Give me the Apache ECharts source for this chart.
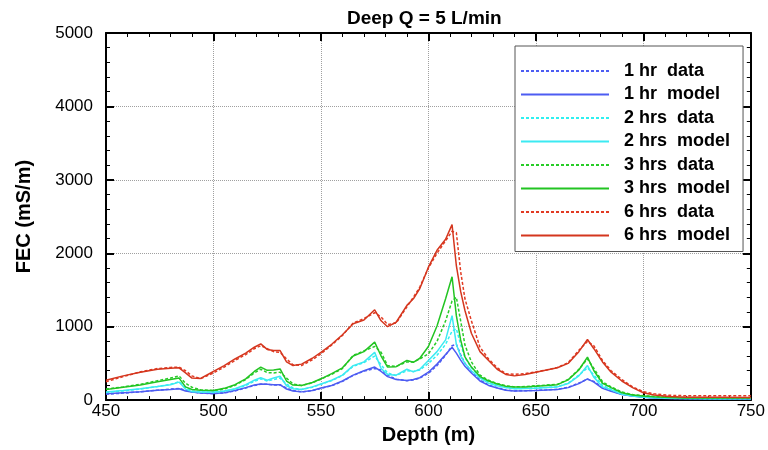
<!DOCTYPE html>
<html>
<head>
<meta charset="utf-8">
<script src="https://cdn.jsdelivr.net/npm/echarts@6/dist/echarts.min.js"></script>
<style>
  html, body { margin: 0; padding: 0; background: #fff; }
  #chart { width: 768px; height: 450px; }
</style>
</head>
<body>
<div id="chart"></div>
<script>
// Depth stations (m)
const depth = [450,458,466,474,480,484,487,490,494,500,
  505,510,515,519,522,525,528,531,534,537,
  541,546,550,555,560,565,570,575,578,581,
  585,590,593,596,600,604,608,611,613,615,
  617,620,624,628,632,636,640,645,650,655,
  660,665,670,674,677,681,685,690,695,700,
  705,712,720,735,750];

// FEC (mS/m) profiles
const hr1Data = [80,95,112,135,150,160,135,112,95,88,
  98,125,165,200,215,215,205,205,165,130,
  112,128,160,195,255,335,395,430,410,340,
  285,265,275,300,365,470,610,740,760,620,
  500,390,275,205,168,138,125,128,133,140,
  148,175,232,285,255,170,125,80,58,42,
  32,24,20,17,17];
const hr1Model = [85,100,115,135,145,155,125,110,95,90,
  100,130,170,205,220,215,210,210,150,125,
  112,130,165,200,260,340,400,450,390,320,
  280,268,280,305,380,490,620,720,640,545,
  460,370,260,200,165,135,123,127,132,138,
  145,170,225,290,245,160,120,75,55,40,
  30,22,18,15,15];
const hrs2Data = [105,125,150,185,215,250,170,125,110,105,
  120,150,200,255,290,260,280,300,220,165,
  145,175,215,265,335,460,510,600,480,370,
  335,400,390,410,500,610,760,940,970,760,
  580,440,320,240,200,172,158,160,165,172,
  182,230,340,440,340,200,150,90,60,45,
  35,28,25,22,22];
const hrs2Model = [110,130,155,185,210,245,150,115,110,110,
  125,155,210,270,305,270,300,325,195,155,
  145,180,220,270,340,470,520,650,430,350,
  340,420,385,420,540,660,820,1150,760,600,
  500,400,300,230,195,170,155,158,163,170,
  180,225,330,470,310,180,140,80,55,40,
  32,25,22,20,20];
const hrs3Data = [150,180,215,265,300,330,230,175,140,130,
  150,200,280,370,420,375,370,380,300,220,
  200,235,285,350,430,610,670,730,650,470,
  460,520,520,560,630,800,1080,1350,1400,1080,
  750,520,340,270,225,195,180,185,195,205,
  215,280,420,560,430,250,180,110,75,60,
  50,40,35,32,30];
const hrs3Model = [145,175,205,250,280,300,180,145,135,130,
  160,210,290,390,450,405,410,425,260,205,
  200,240,290,360,440,600,660,790,600,450,
  455,540,515,570,730,1010,1380,1680,1150,820,
  590,450,320,260,220,190,177,180,190,200,
  210,275,410,585,400,230,170,100,70,55,
  45,35,30,28,28];
const hrs6Data = [250,320,385,430,445,450,400,330,290,370,
  450,540,620,700,740,700,660,650,560,480,
  470,550,630,750,880,1050,1110,1190,1130,1030,
  1050,1270,1400,1540,1800,2000,2170,2300,2280,1750,
  1380,1080,720,560,440,360,350,360,385,410,
  445,510,680,800,740,540,400,280,180,115,
  85,65,60,58,58];
const hrs6Model = [270,330,380,420,435,440,370,300,295,390,
  470,560,640,720,765,690,675,675,520,470,
  490,570,650,760,890,1040,1090,1230,1080,1000,
  1060,1290,1380,1520,1810,2040,2190,2390,1830,1480,
  1220,910,660,540,420,350,330,350,380,410,
  440,500,660,825,700,520,380,260,170,100,
  70,50,40,38,37];

const xTicks = { min: 450, max: 750, step: 50 };
const yTicks = { min: 0, max: 5000, step: 1000 };

const FONT = 'Liberation Sans, Arial, sans-serif';

const seriesDefs = [
  { name: '1 hr  data',   values: hr1Data,   color: '#4d5cf2', dashed: true },
  { name: '1 hr  model',  values: hr1Model,  color: '#4d5cf2', dashed: false },
  { name: '2 hrs  data',  values: hrs2Data,  color: '#2ef0f0', dashed: true },
  { name: '2 hrs  model', values: hrs2Model, color: '#3ceaf2', dashed: false },
  { name: '3 hrs  data',  values: hrs3Data,  color: '#28cc28', dashed: true },
  { name: '3 hrs  model', values: hrs3Model, color: '#22c422', dashed: false },
  { name: '6 hrs  data',  values: hrs6Data,  color: '#e23a22', dashed: true },
  { name: '6 hrs  model', values: hrs6Model, color: '#d4361e', dashed: false }
];

const series = seriesDefs.map(s => ({
  name: s.name,
  type: 'line',
  symbol: 'none',
  smooth: false,
  animation: false,
  data: depth.map((d, i) => [d, s.values[i]]),
  lineStyle: { color: s.color, width: 1.5, type: s.dashed ? [3, 2] : 'solid' },
  itemStyle: { color: s.color }
}));

const axisLine = { show: true, onZero: false, lineStyle: { color: '#000', width: 2 } };
const axisTick = { show: true, inside: true, length: 8, lineStyle: { color: '#000', width: 2 } };
const minorTick = { show: true, splitNumber: 5, length: 4, lineStyle: { color: '#000', width: 1 } };
const gridDots = { show: true, lineStyle: { type: 'dotted', color: '#a0a0a0', width: 1 } };

const chart = echarts.init(document.getElementById('chart'), null, { renderer: 'canvas' });
chart.setOption({
  backgroundColor: '#fff',
  animation: false,
  title: {
    text: 'Deep Q = 5 L/min',
    left: 342, top: 4,
    textStyle: { fontFamily: FONT, fontSize: 19, fontWeight: 'bold', color: '#000' }
  },
  grid: { left: 106, right: 17, top: 33, bottom: 49, containLabel: false },
  legend: {
    orient: 'vertical',
    left: 515, top: 46,
    padding: [16, 13, 7, 5],
    itemWidth: 88, itemHeight: 14, itemGap: 5.5,
    backgroundColor: '#fff',
    borderColor: '#555', borderWidth: 1,
    itemStyle: { opacity: 0, borderWidth: 0 },
    textStyle: { fontFamily: FONT, fontSize: 18, fontWeight: 'bold', color: '#000',
                 padding: [0, 0, 0, 10] },
    data: seriesDefs.map(s => s.name)
  },
  xAxis: [
    {
      type: 'value', position: 'bottom',
      min: xTicks.min, max: xTicks.max, interval: xTicks.step,
      axisLine, axisTick, minorTick,
      splitLine: gridDots,
      axisLabel: { fontFamily: FONT, fontSize: 17, color: '#000', margin: 3 },
      name: 'Depth (m)', nameLocation: 'middle', nameGap: 21,
      nameTextStyle: { fontFamily: FONT, fontSize: 20, fontWeight: 'bold', color: '#000' }
    },
    {
      type: 'value', position: 'top',
      min: xTicks.min, max: xTicks.max, interval: xTicks.step,
      axisLine, axisTick, minorTick,
      splitLine: { show: false }, axisLabel: { show: false }
    }
  ],
  yAxis: [
    {
      type: 'value', position: 'left',
      min: yTicks.min, max: yTicks.max, interval: yTicks.step,
      axisLine, axisTick, minorTick,
      splitLine: gridDots,
      axisLabel: { fontFamily: FONT, fontSize: 17, color: '#000', margin: 13,
                   formatter: v => String(v) },
      name: 'FEC (mS/m)', nameLocation: 'middle', nameGap: 72,
      nameTextStyle: { fontFamily: FONT, fontSize: 20, fontWeight: 'bold', color: '#000' }
    },
    {
      type: 'value', position: 'right',
      min: yTicks.min, max: yTicks.max, interval: yTicks.step,
      axisLine, axisTick, minorTick,
      splitLine: { show: false }, axisLabel: { show: false }
    }
  ],
  series
});
</script>
</body>
</html>
